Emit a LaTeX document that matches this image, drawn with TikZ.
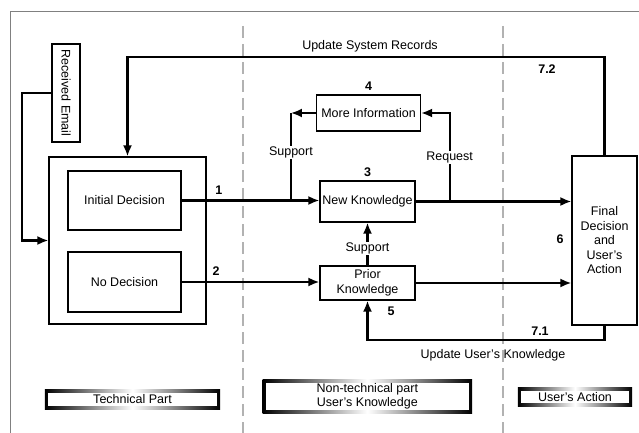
\documentclass[tikz,border=0pt]{standalone}
\usepackage{fontspec}
\setmainfont{Liberation Sans}
\usetikzlibrary{arrows.meta,calc,backgrounds}
\tikzset{
  box/.style={draw,line width=1.2pt,align=center,inner sep=0pt,font=\fontsize{12.5}{14.5}\selectfont},
  flow/.style={line width=2.1pt,-{Latex[length=11pt,width=9pt]}},
  lbl/.style={font=\fontsize{12.5}{14.5}\selectfont,inner sep=1pt},
  num/.style={font=\fontsize{12.5}{14.5}\selectfont\bfseries},
  legend/.style={align=center,inner sep=0pt,font=\fontsize{12.5}{14}\selectfont}
}

\begin{document}
\begin{tikzpicture}[x=1pt,y=-1pt]
\useasboundingbox (0,0) rectangle (639,433);
\draw[gray,line width=1pt] (10,433) -- (10,12) -- (639,12);
\foreach \i in {243,503}
  \draw[gray!60,line width=1.5pt,dash pattern=on 12pt off 6pt] (\i,26) -- (\i,433);

\node[box,rotate=-90,minimum width=98,minimum height=28] (email) at (66,93) {Received Email};
\node[box,minimum width=157,minimum height=167] (tech) at (127.5,240.5) {};
\node[box,minimum width=113,minimum height=59] (init) at (124.5,200.5) {Initial Decision};
\node[box,minimum width=113,minimum height=60] (nodec) at (124.5,282) {No Decision};
\node[box,minimum width=104,minimum height=36] (more) at (368.5,113) {More Information};
\node[box,minimum width=95,minimum height=41] (newk) at (367.5,201.5) {New Knowledge};
\node[box,minimum width=95,minimum height=34] (prior) at (367.5,283) {Prior\\Knowledge};
\node[box,minimum width=65,minimum height=169] (final) at (604.5,240.5) {Final\\Decision\\and\\User's\\Action};

\node[num,above] at (more.north) {4};
\node[num,above] at (newk.north) {3};

\draw[flow] (email.south) -- ++(-29,0) |- (tech.west);
\draw[flow] (init.east) -- (init.east -| newk.west) node[num,pos=0.27,above=2pt]{1};
\draw[flow] (nodec.east) -- (nodec.east -| prior.west) node[num,pos=0.25,above=2pt]{2};
\draw[flow] (newk.east) -- (newk.east -| final.west);
\draw[flow] (prior.east) -- (prior.east -| final.west);
\draw[flow] (more.west) -- ++(-25,0) coordinate (supc);
\draw[line width=2.1pt] (supc) -- node[lbl,fill=white,pos=0.45]{Support} (supc |- init.east);
\draw[flow] ([xshift=34pt]newk.east) |- node[lbl,fill=white,pos=0.25]{Request} (more.east);
\draw[flow] (prior.north) -- node[lbl,fill=white,pos=0.4]{Support} (newk.south);
\draw[flow] (final.north) -- ++(0,-98) -| (tech.north);
\draw[flow] (final.south) -- ++(0,14) -| (prior.south);

\node[lbl] (usr) at (370,46) {Update System Records};
\node[num] (n72) at (547,69) {7.2};
\node[num] (n5) at (391,311) {5};
\node[num] (n6) at (560,239) {6};
\node[num] (n71) at (540,331) {7.1};
\node[lbl] (uuk) at (493,355) {Update User's Knowledge};

\node[legend,minimum width=175,minimum height=19] (legt) at (132.5,399.5) {Technical Part};
\node[legend,minimum width=209,minimum height=33] (legn) at (367.3,396.5) {Non-technical part\\User's Knowledge};
\node[legend,minimum width=114,minimum height=18] (lega) at (575,397) {User's Action};
\begin{scope}[on background layer]
\foreach \n in {legt,legn,lega}{
  \shade[left color=black,right color=black,middle color=white] (\n.south west) rectangle (\n.north east);
  \fill[white] ([xshift=3pt,yshift=3pt]\n.south west) rectangle ([xshift=-3pt,yshift=-3pt]\n.north east);
}
\end{scope}
\end{tikzpicture}
\end{document}
